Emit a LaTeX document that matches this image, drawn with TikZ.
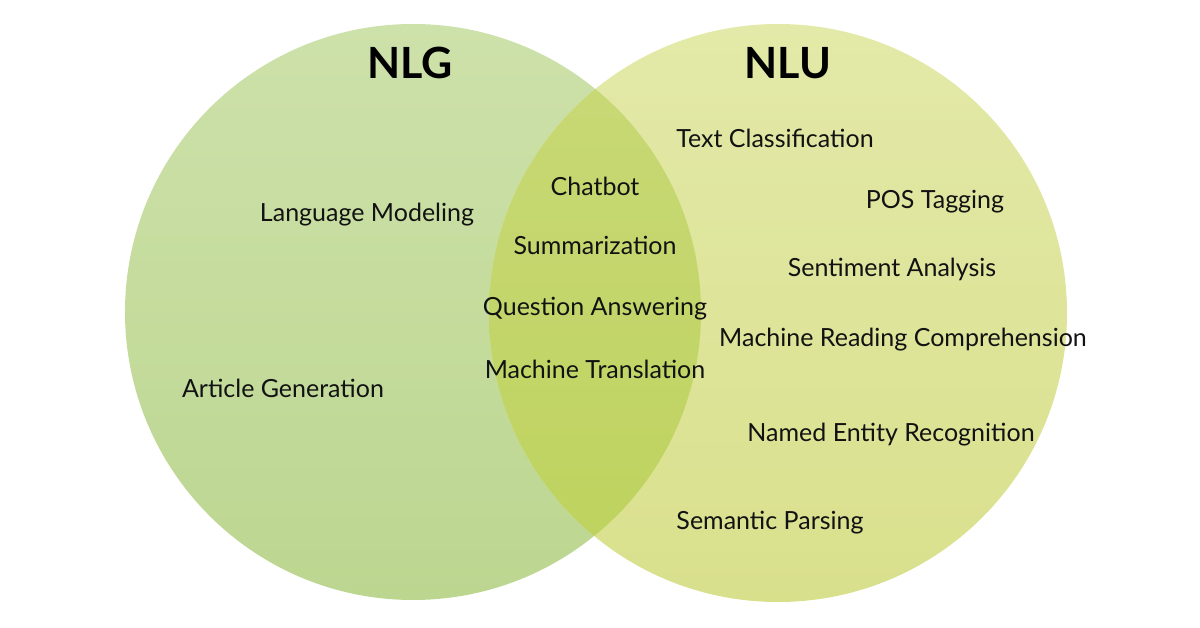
\documentclass[tikz,border=0pt]{standalone}
\usepackage{fontspec}
\setmainfont{Lato}
\begin{document}
\begin{tikzpicture}[x=1pt,y=-1pt,
  lbl/.style={anchor=base,inner sep=0pt,text=black!93,font=\fontsize{25}{28}\selectfont},
  ttl/.style={anchor=base,inner sep=0pt,text=black,font=\fontsize{43}{46}\selectfont\bfseries}]
\useasboundingbox (0,0) rectangle (1200,628);
\definecolor{lgTop}{HTML}{CDE1AA}
\definecolor{lgBot}{HTML}{BCD690}
\definecolor{luTop}{HTML}{E3E9A8}
\definecolor{luBot}{HTML}{D9E08C}
\definecolor{ovTop}{HTML}{C9D978}
\definecolor{ovBot}{HTML}{BDD25C}
\coordinate (cg) at (413,312);
\coordinate (cu) at (778,313);
\shade[top color=lgTop,bottom color=lgBot] (cg) circle[radius=288pt];
\shade[top color=luTop,bottom color=luBot] (cu) circle[radius=289pt];
\begin{scope}
  \clip (cg) circle[radius=288pt];
  \shade[top color=ovTop,bottom color=ovBot] (cu) circle[radius=289pt];
\end{scope}
\node[ttl] (nlg) at (410,79) {NLG};
\node[ttl] (nlu) at (788,79) {NLU};
\node[lbl] (lm) at (367,222) {Language Modeling};
\node[lbl] (ag) at (283,398) {Article Generation};
\node[lbl] (cb) at (595,196) {Chatbot};
\node[lbl] (sm) at (595,254.5) {Summarization};
\node[lbl] (qa) at (595,316) {Question Answering};
\node[lbl] (mt) at (595,378) {Machine Translation};
\node[lbl] (tc) at (775,148) {Text Classification};
\node[lbl] (pos) at (935,209) {POS Tagging};
\node[lbl] (sa) at (892,277) {Sentiment Analysis};
\node[lbl] (mrc) at (903,347) {Machine Reading Comprehension};
\node[lbl] (ner) at (891,441) {Named Entity Recognition};
\node[lbl] (sp) at (770,529) {Semantic Parsing};
\end{tikzpicture}
\end{document}
